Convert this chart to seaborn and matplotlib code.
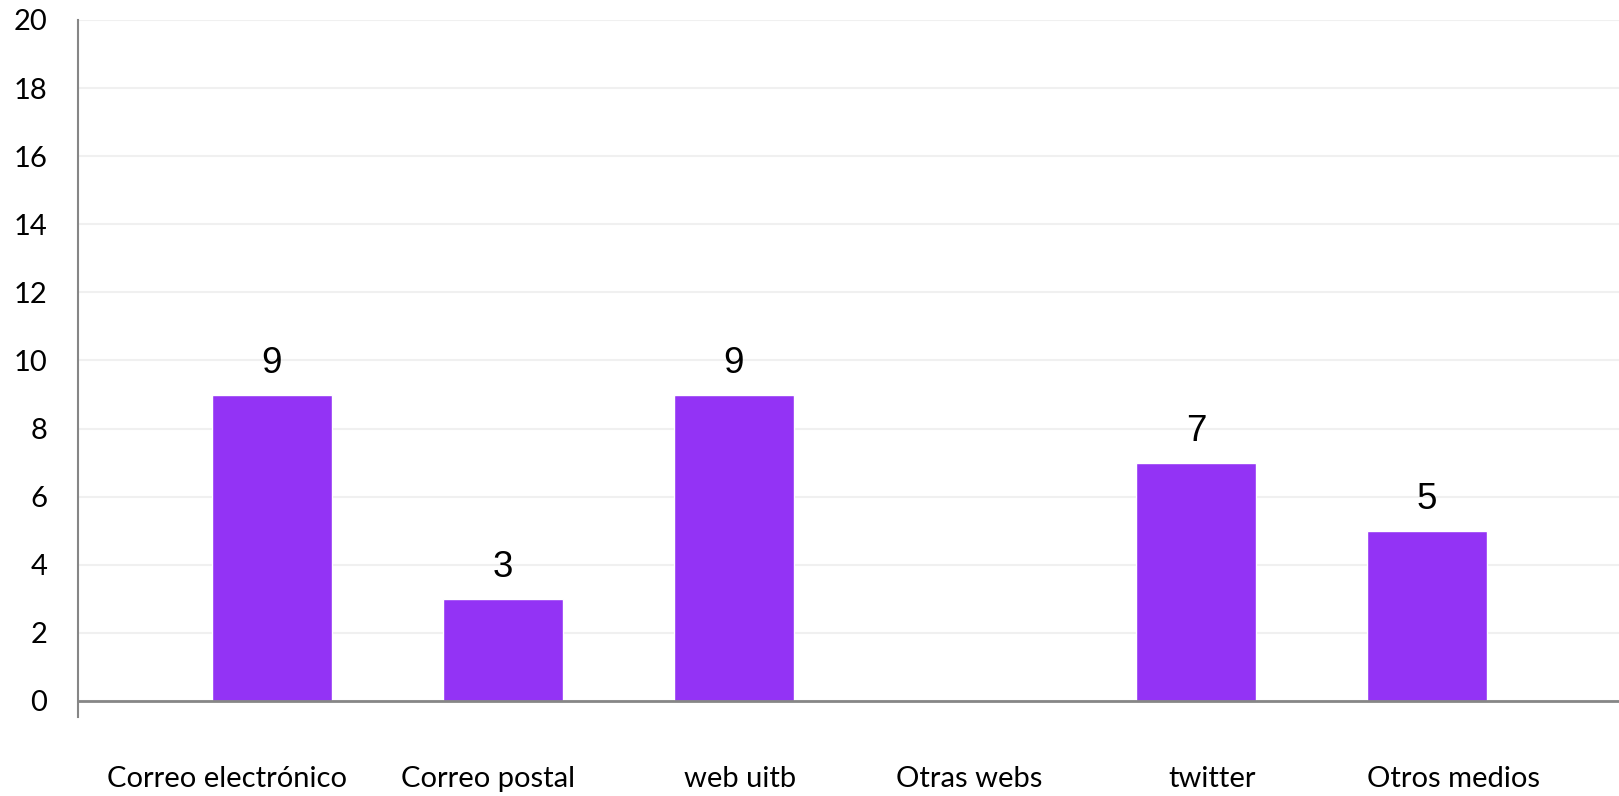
import matplotlib
matplotlib.use('Agg')
import matplotlib.pyplot as plt
import matplotlib.transforms as mtransforms
import seaborn as sns

categorias = ['Correo electrónico', 'Correo postal', 'web uitb', 'Otras webs', 'twitter', 'Otros medios']
valores = [9, 3, 9, 0, 7, 5]
y_ticks = [0, 2, 4, 6, 8, 10, 12, 14, 16, 18, 20]

sns.set_style('white')
plt.rcParams['font.family'] = ['Lato', 'DejaVu Sans']

fig = plt.figure(figsize=(16.19, 7.96), dpi=100)
ax = fig.add_axes([78 / 1619, (796 - 717) / 796, 1 - 78 / 1619, (717 - 20) / 796])

sns.barplot(x=categorias, y=valores, color='#9333F5', saturation=1, width=0.52, ax=ax)

# etiquetas de valor (sin etiqueta para las barras vacías)
for i, v in enumerate(valores):
    if v > 0:
        ax.text(i, v + 0.4, str(v), ha='center', va='bottom', fontsize=26.5,
                family='Liberation Sans', color='black')

ax.set_xlim(-0.838, 5.83)
ax.set_ylim(-0.47, 20)
ax.set_yticks(y_ticks)
ax.set_yticklabels([str(t) for t in y_ticks])
ax.yaxis.grid(True, color='#F0F0F0', linewidth=1.5)
ax.set_axisbelow(True)
ax.axhline(0, color='#868686', linewidth=2, zorder=3)

for s in ['top', 'right', 'bottom']:
    ax.spines[s].set_visible(False)
ax.spines['left'].set_color('#868686')
ax.spines['left'].set_linewidth(1.5)

ax.tick_params(axis='y', length=7.2, width=1.5, color='#868686', pad=15, labelsize=21, labelcolor='black')
ax.tick_params(axis='x', length=0, pad=35, labelsize=21, labelcolor='black')
ax.set_xlabel('')
ax.set_ylabel('')

# el original no centra del todo las etiquetas bajo las barras
desplaz_px = [-44.5, -15, 6.5, 4.5, 16.5, 26.5]
for lab, dx in zip(ax.get_xticklabels(), desplaz_px):
    lab.set_transform(lab.get_transform() + mtransforms.ScaledTranslation(dx / 100, 0, fig.dpi_scale_trans))

fig.savefig('out.png', dpi=100)
